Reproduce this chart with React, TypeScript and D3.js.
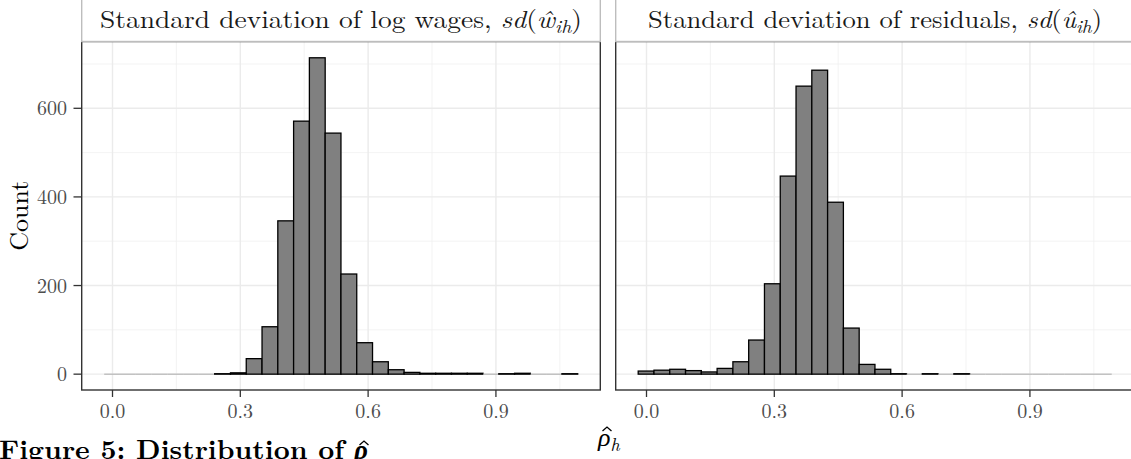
import React from "react";
import * as d3 from "d3";

// ---- data (histogram counts, 30 shared bins) ----
const binStart = -0.0195;
const binWidth = 0.03705;
const wageCounts = [0, 0, 0, 0, 0, 0, 0, 1, 3, 35, 107, 346, 571, 714, 544, 226, 71, 28, 10, 4, 2, 2, 2, 2, 0, 1, 2, 0, 0, 1];
const residCounts = [7, 9, 11, 8, 5, 13, 28, 77, 204, 447, 650, 686, 388, 104, 22, 11, 1, 0, 1, 0, 1, 0, 0, 0, 0, 0, 0, 0, 0, 0];
const xTicks = [0, 0.3, 0.6, 0.9];
const xMinor = [0.15, 0.45, 0.75, 1.05];
const yTicks = [0, 200, 400, 600];
const yMinor = [100, 300, 500, 700];
const xDomain = [-0.0723, 1.145];
const yDomain = [-35.75, 750.75];

const W = 1131;
const H = 459;
const panelTop = 41.5;
const panelBottom = 390;
const FONT = "'Latin Modern Roman','CMU Serif','Liberation Serif','Times New Roman',serif";

type PanelProps = {
  x0: number;
  x1: number;
  counts: number[];
  id: string;
  titleLen: number;
  title: React.ReactNode;
};

function Hat({ x, y, w }: { x: number; y: number; w: number }) {
  return (
    <path
      d={`M${x - w / 2},${y + w * 0.45} L${x},${y} L${x + w / 2},${y + w * 0.45}`}
      fill="none"
      stroke="#000"
      strokeWidth={1.3}
    />
  );
}

function Panel({ x0, x1, counts, id, title, titleLen }: PanelProps) {
  const x = d3.scaleLinear().domain(xDomain).range([x0, x1]);
  const y = d3.scaleLinear().domain(yDomain).range([panelBottom, panelTop]);
  const bins = counts.map((c, i) => ({
    lo: binStart + i * binWidth,
    hi: binStart + (i + 1) * binWidth,
    c,
  }));
  const cx = (x0 + x1) / 2;
  return (
    <g>
      <clipPath id={id}>
        <rect x={x0} y={panelTop} width={x1 - x0} height={panelBottom - panelTop} />
      </clipPath>
      <rect x={x0} y={panelTop} width={x1 - x0} height={panelBottom - panelTop} fill="#fff" />
      <g clipPath={`url(#${id})`}>
        {yMinor.map((v) => (
          <line key={"ym" + v} x1={x0} x2={x1} y1={y(v)} y2={y(v)} stroke="#f0f0f0" strokeWidth={0.8} />
        ))}
        {xMinor.map((v) => (
          <line key={"xm" + v} x1={x(v)} x2={x(v)} y1={panelTop} y2={panelBottom} stroke="#f0f0f0" strokeWidth={0.8} />
        ))}
        {yTicks.map((v) => (
          <line key={"yM" + v} x1={x0} x2={x1} y1={y(v)} y2={y(v)} stroke="#ebebeb" strokeWidth={1.4} />
        ))}
        {xTicks.map((v) => (
          <line key={"xM" + v} x1={x(v)} x2={x(v)} y1={panelTop} y2={panelBottom} stroke="#ebebeb" strokeWidth={1.4} />
        ))}
        {bins.map((b, i) =>
          b.c === 0 ? (
            <line key={i} x1={x(b.lo)} x2={x(b.hi)} y1={y(0)} y2={y(0)} stroke="#aaaaaa" strokeWidth={1} />
          ) : (
            <rect
              key={i}
              x={x(b.lo)}
              y={y(b.c)}
              width={x(b.hi) - x(b.lo)}
              height={y(0) - y(b.c)}
              fill="#808080"
              stroke="#000"
              strokeWidth={1.3}
            />
          )
        )}
      </g>
      <rect x={x0} y={panelTop} width={x1 - x0} height={panelBottom - panelTop} fill="none" stroke="#333" strokeWidth={1.4} />
      {/* strip */}
      <rect x={x0} y={-6} width={x1 - x0} height={panelTop + 6} fill="#fff" stroke="#bdbdbd" strokeWidth={1.4} />
      <text
        x={cx}
        y={28}
        textAnchor="middle"
        fontSize={25}
        fill="#1a1a1a"
        fontFamily={FONT}
        textLength={titleLen}
        lengthAdjust="spacingAndGlyphs"
      >
        {title}
      </text>
      {/* x axis */}
      {xTicks.map((v) => (
        <g key={"xt" + v}>
          <line x1={x(v)} x2={x(v)} y1={panelBottom} y2={panelBottom + 7} stroke="#333" strokeWidth={1.3} />
          <text x={x(v)} y={418} textAnchor="middle" fontSize={20} fill="#4d4d4d" fontFamily={FONT}>
            {d3.format(".1f")(v)}
          </text>
        </g>
      ))}
    </g>
  );
}

export default function App() {
  const yLeft = d3.scaleLinear().domain(yDomain).range([panelBottom, panelTop]);
  return (
    <svg
      width={W}
      height={H}
      style={{ position: "absolute", left: 0, top: 0, background: "#fff" }}
      fontFamily={FONT}
    >
      <rect x={0} y={0} width={W} height={H} fill="#fff" />
      <Panel
        id="clipL"
        x0={81.7}
        x1={600.3}
        counts={wageCounts}
        titleLen={482}
        title={
          <>
            {"Standard deviation of log wages, "}
            <tspan fontStyle="italic">sd</tspan>
            {"("}
            <tspan fontStyle="italic">ŵ</tspan>
            <tspan fontStyle="italic" fontSize={18} dy={5}>ih</tspan>
            <tspan dy={-5}>)</tspan>
          </>
        }
      />
      <Panel
        id="clipR"
        x0={615.7}
        x1={1134.3}
        counts={residCounts}
        titleLen={454}
        title={
          <>
            {"Standard deviation of residuals, "}
            <tspan fontStyle="italic">sd</tspan>
            {"("}
            <tspan fontStyle="italic">û</tspan>
            <tspan fontStyle="italic" fontSize={18} dy={5}>ih</tspan>
            <tspan dy={-5}>)</tspan>
          </>
        }
      />
      {/* y axis */}
      {yTicks.map((v) => (
        <g key={"yt" + v}>
          <line x1={73.5} x2={81.7} y1={yLeft(v)} y2={yLeft(v)} stroke="#333" strokeWidth={1.3} />
          <text x={67} y={yLeft(v) + 7} textAnchor="end" fontSize={20} fill="#4d4d4d" fontFamily={FONT}>
            {v}
          </text>
        </g>
      ))}
      <text
        transform={`translate(28,${(panelTop + panelBottom) / 2}) rotate(-90)`}
        textAnchor="middle"
        fontSize={26}
        fill="#000"
        fontFamily={FONT}
      >
        Count
      </text>
      {/* x title */}
      <text x={598} y={446} fontSize={26} fontStyle="italic" fill="#000" fontFamily={FONT}>
        ρ<tspan fontSize={18} dy={5}>h</tspan>
      </text>
      <Hat x={607} y={427} w={9} />
      {/* caption */}
      <text
        x={-1}
        y={459}
        fontSize={27}
        fontWeight="bold"
        fill="#000"
        fontFamily={FONT}
        textLength={345}
        lengthAdjust="spacingAndGlyphs"
      >
        {"Figure 5:  Distribution of"}
      </text>
      <text x={354} y={459} fontSize={27} fontWeight="bold" fontStyle="italic" fill="#000" fontFamily={FONT}>
        ρ
      </text>
      <Hat x={364} y={441} w={9} />
    </svg>
  );
}
